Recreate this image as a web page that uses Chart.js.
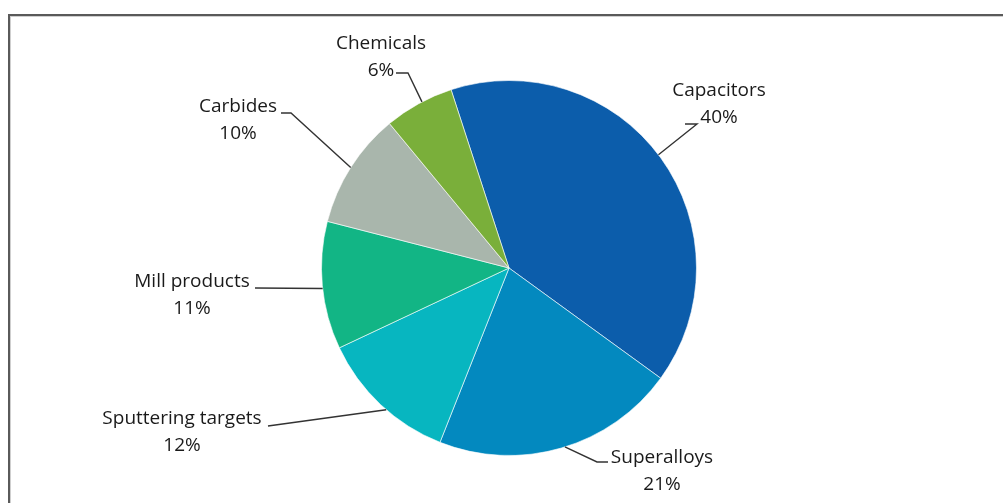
<!DOCTYPE html>
<html>
<head>
<meta charset="utf-8">
<script src="https://cdn.jsdelivr.net/npm/chart.js@4/dist/chart.umd.min.js"></script>
<style>
  html, body { margin: 0; padding: 0; background: #fff; }
  #wrap { position: relative; width: 1003px; height: 503px; overflow: hidden; }
  #frame {
    position: absolute; left: 8px; top: 14px; width: 1100px; height: 600px;
    border-top: 2px solid #5a5a5a; border-left: 2px solid #5a5a5a;
    box-shadow: inset 1px 1px 0 #cfcfcf;
  }
  #chart { position: absolute; left: 0; top: 0; }
</style>
</head>
<body>
<div id="wrap">
  <div id="frame"></div>
  <canvas id="chart" width="1003" height="503"></canvas>
</div>
<script>
// end uses of tantalum, share of total (%)
const categories = ['Capacitors', 'Superalloys', 'Sputtering targets', 'Mill products', 'Carbides', 'Chemicals'];
const shares = [40, 21, 12, 11, 10, 6];
const sliceColors = ['#0c5dab', '#0389bf', '#07b6c0', '#12b585', '#a9b6ac', '#7aaf3a'];

// label placement: text centre (tx, ty of first line), leader start (ex, ey),
// elbow (kx, ky) and a small angular shift of where the leader meets the arc
const labelLayout = [
  { tx: 719, ty: 91,  ex: 685, ey: 124, kx: 697, ky: 124, shift: -0.02 },
  { tx: 662, ty: 458, ex: 608, ey: 462, kx: 597, ky: 462, shift: -0.02 },
  { tx: 182, ty: 419, ex: 268, ey: 426, kx: 268, ky: 426, shift: -0.04 },
  { tx: 192, ty: 282, ex: 255, ey: 288, kx: 255, ky: 288, shift: -0.015 },
  { tx: 238, ty: 107, ex: 281, ey: 113, kx: 291, ky: 113, shift: 0.0 },
  { tx: 381, ty: 44,  ex: 396, ey: 73,  kx: 408, ky: 73,  shift: 0.02 }
];

const leaderLabels = {
  id: 'leaderLabels',
  afterDatasetsDraw(chart) {
    const ctx = chart.ctx;
    const arcs = chart.getDatasetMeta(0).data;
    ctx.save();
    ctx.font = '19px "Open Sans", Lato, sans-serif';
    ctx.fillStyle = '#1a1a1a';
    ctx.textAlign = 'center';
    ctx.textBaseline = 'middle';
    ctx.strokeStyle = '#333';
    ctx.lineWidth = 1.4;
    arcs.forEach((arc, i) => {
      const p = arc.getProps(['x', 'y', 'startAngle', 'endAngle', 'outerRadius'], true);
      const l = labelLayout[i];
      const mid = (p.startAngle + p.endAngle) / 2 + l.shift;
      const ax = p.x + Math.cos(mid) * p.outerRadius;
      const ay = p.y + Math.sin(mid) * p.outerRadius;
      ctx.beginPath();
      ctx.moveTo(l.ex, l.ey);
      ctx.lineTo(l.kx, l.ky);
      ctx.lineTo(ax, ay);
      ctx.stroke();
      ctx.fillText(categories[i], l.tx, l.ty);
      ctx.fillText(shares[i] + '%', l.tx, l.ty + 27);
    });
    ctx.restore();
  }
};

new Chart(document.getElementById('chart').getContext('2d'), {
  type: 'pie',
  data: {
    labels: categories,
    datasets: [{
      data: shares,
      backgroundColor: sliceColors,
      borderColor: 'rgba(255,255,255,0.6)',
      borderWidth: 1
    }]
  },
  options: {
    responsive: false,
    animation: false,
    rotation: -18,
    layout: { padding: { top: 80, bottom: 47, left: 321, right: 306 } },
    plugins: { legend: { display: false }, tooltip: { enabled: false } }
  },
  plugins: [leaderLabels]
});
</script>
</body>
</html>
